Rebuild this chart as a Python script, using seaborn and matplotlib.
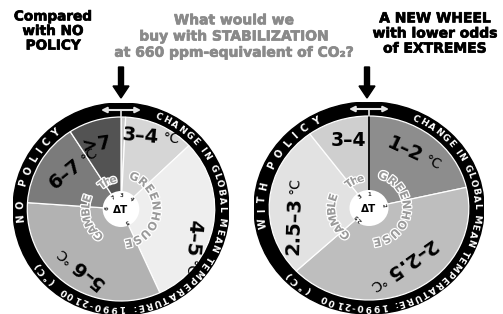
import numpy as np
import matplotlib
matplotlib.use("Agg")
import matplotlib.pyplot as plt
import matplotlib.patheffects as pe
from matplotlib.patches import Circle, FancyArrow
from matplotlib.font_manager import FontProperties
from matplotlib.textpath import TextToPath
import seaborn as sns

sns.set_theme(style="white")
plt.rcParams['font.family'] = ['DejaVu Sans']

W, H = 503, 314
DPI = 100

# ---------------- data ----------------
no_policy_ranges = ["<3", "3–4", "4–5", "5–6", "6–7", ">7"]
no_policy_probs = [0.8, 12.1, 30.3, 32.9, 14.8, 9.1]
no_policy_units = ["", "°C", "°C", "°C", "°C", ""]
no_policy_bounds = ["3", "4", "5", "6", "7", ""]

with_policy_ranges = ["1–2", "2–2.5", "2.5–3", "3–4"]
with_policy_probs = [21.4, 41.6, 26.9, 10.1]
with_policy_units = ["°C", "°C", "°C", ""]
with_policy_bounds = ["2", "2.5", "3", "1"]

title_left = ["Compared", "with NO", "POLICY"]
title_mid = ["What would we", "buy with STABILIZATION", "at 660 ppm-equivalent of CO₂?"]
title_right = ["A NEW WHEEL", "with lower odds", "of EXTREMES"]
ring_text = "CHANGE IN GLOBAL MEAN TEMPERATURE: 1990-2100"
ring_unit = "(°C)"
policy_names = ["NO POLICY", "WITH POLICY"]
hub_words = ["The", "GREENHOUSE", "GAMBLE"]

# ---------------- style ----------------
no_policy_colors = ["#cacaca", "#d6d6d6", "#eeeeee", "#b2b2b2", "#7b7b7b", "#535353"]
with_policy_colors = ["#8d8d8d", "#bebebe", "#e2e2e2", "#cfcfcf"]

# label junction offsets from wheel centre (px, y down) and rotation
no_policy_layout = [None, (38, -71, -5), (70, 47, -95), (-48, 53, 141),
                    (-41, -46, 39), (-25, -64, 8)]
with_policy_layout = [(53, -50, -25), (17, 68, -145), (-74, -11, 88), (-21, -68, 0)]

fig = plt.figure(figsize=(W / DPI, H / DPI), dpi=DPI)
fig.patch.set_facecolor("white")

_t2p = TextToPath()


def char_width(ch, fp):
    if ch == " ":
        return 0.33 * fp.get_size_in_points() * DPI / 72
    w, h, d = _t2p.get_text_width_height_descent(ch, fp, ismath=False)
    return w * DPI / 72


def curved(ax, text, r_px, a0, a1, Ry, fs, color, weight="bold", effects=None):
    fp = FontProperties(family="DejaVu Sans", weight=weight, size=fs)
    widths = [char_width(c, fp) for c in text]
    arc = np.radians(a1 - a0) * r_px
    gap = (arc - sum(widths)) / max(len(text) - 1, 1)
    pos = 0.0
    for c, w in zip(text, widths):
        mid = pos + w / 2
        ang = a0 + np.degrees(mid / r_px)
        th = np.radians(ang)
        x, y = r_px / Ry * np.sin(th), r_px / Ry * np.cos(th)
        t = ax.text(x, y, c, rotation=-ang, rotation_mode="anchor", ha="center",
                    va="center", fontsize=fs, fontweight=weight, color=color, zorder=8)
        if effects:
            t.set_path_effects(effects)
        pos += w + gap


def wheel(cx, cy, Rx, Ry, probs, colors, ranges, units, layout, bounds, pname,
          pspan, rspan, uspan, zero_line):
    ax = fig.add_axes([(cx - Rx) / W, 1 - (cy + Ry) / H, 2 * Rx / W, 2 * Ry / H])
    ax.add_patch(Circle((0, 0), 1.0, color="black", zorder=0))
    ax.pie(probs, colors=colors, startangle=90, counterclock=False,
           radius=92 / Ry, center=(0, 0), frame=True,
           wedgeprops=dict(edgecolor="white", linewidth=0.9))
    ax.set_xlim(-1, 1)
    ax.set_ylim(-1, 1)
    ax.set_aspect("auto")
    ax.axis("off")
    if zero_line:
        ax.plot([0, 0], [18 / Ry, 92 / Ry], color="black", lw=1.3, zorder=3)
    # hub
    ax.add_patch(Circle((0, 0), 18 / Ry, facecolor="white", edgecolor="none", zorder=4))
    ax.text(0, -0.01, "ΔT", ha="center", va="center", fontsize=7.5,
            fontweight="bold", color="black", zorder=5)
    cum = np.cumsum(probs) / np.sum(probs) * 360.0
    for b, a in zip(bounds, cum):
        if not b:
            continue
        a = a % 360
        th = np.radians(a)
        ax.text(13.5 / Ry * np.sin(th), 13.5 / Ry * np.cos(th), b, rotation=-a,
                rotation_mode="anchor", ha="center", va="center", fontsize=3.8,
                fontweight="bold", color="#333333", zorder=5)
    # greenhouse gamble words
    eff = [pe.withStroke(linewidth=1.8, foreground="white")]
    curved(ax, hub_words[0], 30, 316, 352, Ry, 7.8, "#9a9a9a", effects=eff)
    curved(ax, hub_words[1], 34, 14, 174, Ry, 8.2, "#9a9a9a", effects=eff)
    curved(ax, hub_words[2], 34, 212, 294, Ry, 8.2, "#9a9a9a", effects=eff)
    # ring text
    curved(ax, ring_text, 99, rspan[0], rspan[1], Ry, 6.5, "white")
    curved(ax, ring_unit, 99, uspan[0], uspan[1], Ry, 6.8, "white")
    curved(ax, pname, 99, pspan[0], pspan[1], Ry, 7.0, "white")
    # wedge labels
    for txt, unit, lay in zip(ranges, units, layout):
        if lay is None:
            continue
        dx, dy, rot = lay
        x, y = dx / Rx, -dy / Ry
        if unit:
            ax.text(x, y, txt, rotation=rot, rotation_mode="anchor", ha="right",
                    va="center", fontsize=14, fontweight="bold", color="black", zorder=6)
            # unit placed just after the number along the reading direction
            ur = np.radians(rot)
            ux = x + 3.5 * np.cos(ur) / Rx
            uy = y + 3.5 * np.sin(ur) / Ry
            ax.text(ux, uy, unit, rotation=rot, rotation_mode="anchor", ha="left",
                    va="center", fontsize=10, color="black", zorder=10)
        else:
            ax.text(x, y, txt, rotation=rot, rotation_mode="anchor", ha="center",
                    va="center", fontsize=13.5, fontweight="bold", color="black", zorder=6)
    # small double arrow on ring top
    ax.annotate("", xy=(-20 / Rx, 99 / Ry), xytext=(20 / Rx, 99 / Ry),
                arrowprops=dict(arrowstyle="<|-|>", color="#e4e4e4", lw=1.5,
                                mutation_scale=8, shrinkA=0, shrinkB=0), zorder=9)
    ax.plot([0, 0], [99 / Ry, 92 / Ry], color="#e4e4e4", lw=1.2, zorder=9)
    return ax


wheel(121, 209, 108, 106, no_policy_probs, no_policy_colors, no_policy_ranges,
      no_policy_units, no_policy_layout, no_policy_bounds, policy_names[0],
      (262, 322), (20, 216), (222, 237), zero_line=False)
wheel(369, 208, 115, 106, with_policy_probs, with_policy_colors, with_policy_ranges,
      with_policy_units, with_policy_layout, with_policy_bounds, policy_names[1],
      (258, 333), (24, 206), (213, 229), zero_line=True)

# overlay for titles and arrows
bg = fig.add_axes([0, 0, 1, 1])
bg.patch.set_alpha(0)
bg.set_xlim(0, W)
bg.set_ylim(H, 0)
bg.axis("off")

heavy_k = [pe.withStroke(linewidth=0.5, foreground="black")]
heavy_g = [pe.withStroke(linewidth=0.5, foreground="#8a8a8a")]
bg.text(53, 31, "\n".join(title_left), ha="center", va="center", fontsize=9.8,
        fontweight="bold", color="black", linespacing=1.05, path_effects=heavy_k)
bg.text(234, 36.5, "\n".join(title_mid), ha="center", va="center", fontsize=10,
        fontweight="bold", color="#8a8a8a", linespacing=1.2, path_effects=heavy_g)
bg.text(435, 33.5, "\n".join(title_right), ha="center", va="center", fontsize=10,
        fontweight="bold", color="black", linespacing=1.1, path_effects=heavy_k)

for x in (121, 367):
    bg.add_patch(FancyArrow(x, 67, 0, 31, width=5, head_width=16, head_length=12,
                            length_includes_head=True, color="black"))

fig.savefig("out.png", dpi=DPI, facecolor="white")
